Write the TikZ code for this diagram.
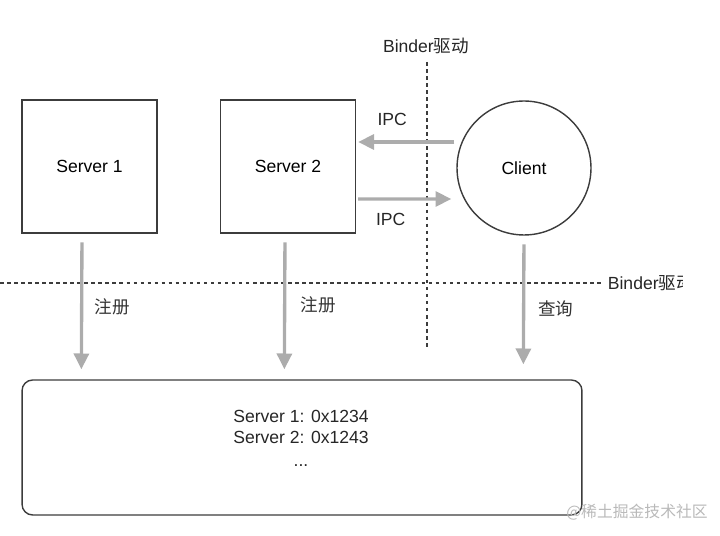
\documentclass[tikz,border=0pt]{standalone}
\usepackage{fontspec}
\setmainfont{Liberation Sans}
\newfontfamily\cjk{Noto Sans CJK SC}
\usetikzlibrary{arrows.meta, positioning, calc}
\definecolor{mydark}{RGB}{60,60,60}
\definecolor{mygray}{RGB}{172,172,172}
\definecolor{mywater}{RGB}{185,185,185}
\tikzset{
  server/.style={rectangle, draw=mydark, line width=0.8pt,
    minimum width=2.7cm, minimum height=2.66cm, font=\normalsize},
  client/.style={circle, draw=mydark, line width=0.8pt,
    minimum size=2.68cm, font=\normalsize},
  registry/.style={rectangle, draw=mydark, line width=0.8pt, rounded corners=6pt,
    minimum width=11.2cm, minimum height=2.7cm},
  grayarrow/.style={-{Triangle[length=9pt,width=8.5pt]}, line width=1.9pt, color=mygray},
  border/.style={mydark, line width=0.6pt, dash pattern=on 2pt off 2pt},
  lbl/.style={font=\normalsize, text=black!85},
  cnlbl/.style={font=\cjk\normalsize, text=black!80}
}
\begin{document}
\begin{tikzpicture}[x=0.02cm, y=-0.02cm]
  \useasboundingbox (0,0) rectangle (720,536);

  \node[server] (s1) at (89.5,166.5) {Server 1};
  \node[server] (s2) at (288,166.5) {Server 2};
  \node[client] (cl) at (524,168) {Client};
  \node[registry] (reg) at (302,447.5) {};
  \node[align=center, lbl] (tab) at (301,438) {Server 1: 0x1234\\[0pt]Server 2: 0x1243\\[1pt]...};

  % Binder borders
  \coordinate (vtop) at (427,62);
  \coordinate (vbot) at (427,350);
  \coordinate (hl) at (0,283);
  \coordinate (hr) at (604,283);
  \draw[border] (vtop) -- (vbot);
  \draw[border] (hl) -- (hr);
  \node[lbl] (bv) at (426,46) {Binder{\cjk 驱动}};
  \begin{scope}
    \clip (600,260) rectangle (682,306);
    \node[lbl, anchor=west, inner sep=2pt] (bh) at (hr) {Binder{\cjk 驱动}};
  \end{scope}

  % IPC
  \coordinate (c1) at ($(cl.west)+(-2,-26)$);
  \coordinate (p1) at ($(s2.east)+(2,-24.5)$);
  \coordinate (p2) at ($(s2.east)+(2,32.5)$);
  \coordinate (c2) at ($(cl.west)+(-5,31)$);
  \draw[grayarrow] (c1) -- node[above=5pt, xshift=-8, lbl] (ipc1) {IPC} (p1);
  \draw[grayarrow] (p2) -- node[below=4pt, xshift=-8, lbl] (ipc2) {IPC} (c2);

  % register / query
  \draw[grayarrow, shorten <=5pt] ($(s1.south)+(-7.5,0)$) -- ($(reg.north west)+(60,-10)$)
    node[midway, right=3pt, yshift=-3, cnlbl] (r1) {注册};
  \draw[grayarrow, shorten <=5pt] ($(s2.south)+(-3,0)$) -- ($(reg.north west)+(263,-10)$)
    node[midway, right=5pt, yshift=-2, cnlbl] (r2) {注册};
  \draw[grayarrow, shorten <=5pt] (cl.south) -- ($(reg.north west)+(502,-15)$)
    node[midway, right=4pt, yshift=-5, cnlbl] (q) {查询};

  \node[font=\cjk\small, text=mywater] (wm) at (637,512) {@稀土掘金技术社区};
\end{tikzpicture}
\end{document}
